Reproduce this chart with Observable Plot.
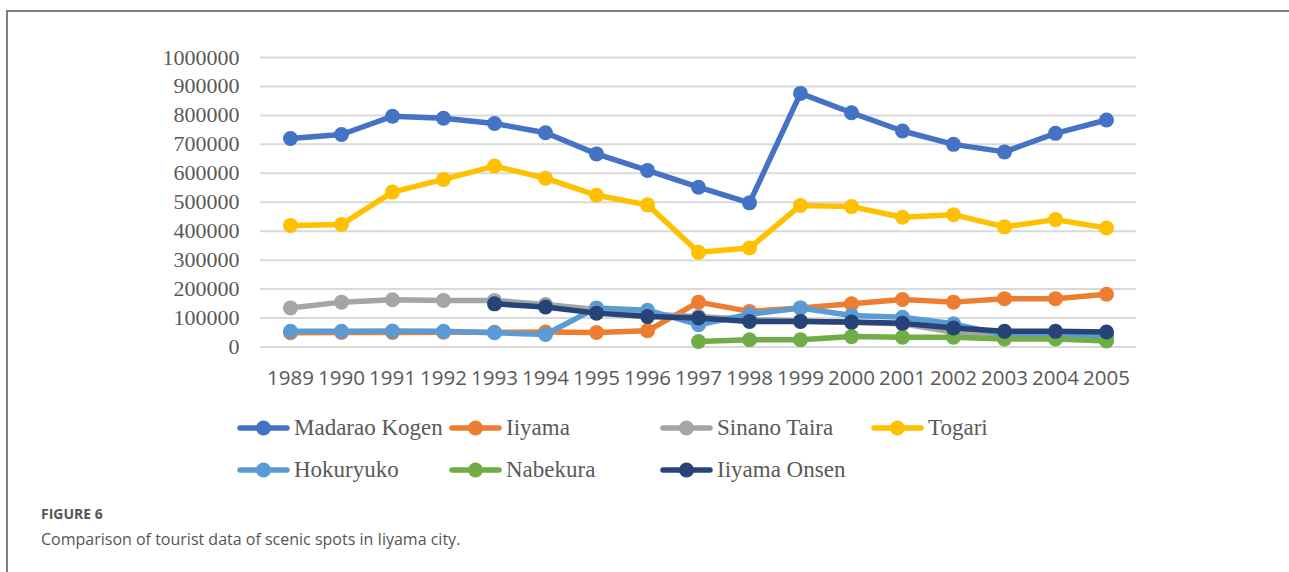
<!DOCTYPE html>
<html>
<head>
<meta charset="utf-8">
<script src="https://cdn.jsdelivr.net/npm/d3@7"></script>
<script src="https://cdn.jsdelivr.net/npm/@observablehq/plot@0.6"></script>
<style>
  html, body { margin: 0; padding: 0; background: #fff; }
  #wrap { position: relative; width: 1289px; height: 572px; overflow: hidden; background: #fff; }
  #frame { position: absolute; left: 6px; top: 10px; width: 1300px; height: 600px;
           border-top: 2px solid #7f7f7f; border-left: 2px solid #7f7f7f; box-sizing: border-box; }
  #chart { position: absolute; left: 0; top: 0; }
  .leg { position: absolute; display: flex; align-items: center; height: 30px;
         font-family: "Liberation Serif", serif; font-size: 23px; color: #595959; white-space: nowrap; }
  .leg svg { margin-right: 4px; }
  #fig { position: absolute; left: 41px; top: 504px; font-family: "Open Sans", sans-serif;
         font-weight: 700; font-size: 14px; color: #555; }
  #cap { position: absolute; left: 41px; top: 528px; font-family: "Open Sans", sans-serif;
         font-size: 16px; color: #555; }
</style>
</head>
<body>
<div id="wrap">
  <div id="frame"></div>
  <div id="chart"></div>
  <div id="legend"></div>
  <div id="fig">FIGURE 6</div>
  <div id="cap">Comparison of tourist data of scenic spots in Iiyama city.</div>
</div>
<script>
const years = [1989, 1990, 1991, 1992, 1993, 1994, 1995, 1996, 1997, 1998, 1999, 2000, 2001, 2002, 2003, 2004, 2005];
const yTicks = [0, 100000, 200000, 300000, 400000, 500000, 600000, 700000, 800000, 900000, 1000000];

const seriesNames = ["Madarao Kogen", "Iiyama", "Sinano Taira", "Togari", "Hokuryuko", "Nabekura", "Iiyama Onsen"];
const seriesColors = ["#4472C4", "#ED7D31", "#A5A5A5", "#FFC000", "#5B9BD5", "#70AD47", "#264478"];

const madaraoKogen = [720000, 734000, 797000, 790000, 772000, 740000, 667000, 610000, 552000, 498000, 876000, 809000, 746000, 700000, 674000, 738000, 784000];
const iiyama       = [49000, 50000, 50000, 51000, 51000, 52000, 50000, 56000, 155000, 123000, 135000, 149000, 164000, 155000, 167000, 167000, 182000];
const sinanoTaira  = [135000, 155000, 163000, 161000, 161000, 147000, 130000, 113000, 105000, 95000, 90000, 85000, 80000, 51000, 40000, 38000, 36000];
const togari       = [420000, 423000, 535000, 579000, 625000, 583000, 524000, 491000, 327000, 342000, 489000, 485000, 448000, 457000, 415000, 440000, 411000];
const hokuryuko    = [54000, 54000, 55000, 54000, 49000, 43000, 135000, 127000, 77000, 113000, 135000, 109000, 103000, 80000, 42000, 40000, 36000];
const nabekura     = [null, null, null, null, null, null, null, null, 19000, 25000, 25000, 36000, 34000, 34000, 28000, 28000, 21000];
const iiyamaOnsen  = [null, null, null, null, 149000, 138000, 117000, 105000, 100000, 88000, 88000, 86000, 82000, 66000, 54000, 54000, 52000];

const seriesValues = [madaraoKogen, iiyama, sinanoTaira, togari, hokuryuko, nabekura, iiyamaOnsen];

const seriesMarks = [];
seriesNames.forEach((name, i) => {
  const rows = years.map((y, j) => ({year: y, value: seriesValues[i][j], series: name}))
                    .filter(d => d.value != null);
  seriesMarks.push(Plot.line(rows, {x: "year", y: "value", stroke: seriesColors[i], strokeWidth: 5.5, strokeLinejoin: "round", strokeLinecap: "round"}));
  seriesMarks.push(Plot.dot(rows, {x: "year", y: "value", fill: seriesColors[i], r: 7.5, stroke: "none"}));
});

const chart = Plot.plot({
  width: 1289,
  height: 400,
  marginLeft: 260,
  marginRight: 153,
  marginTop: 57,
  marginBottom: 53.5,
  style: {background: "transparent", color: "#595959", overflow: "visible"},
  x: {type: "point", domain: years, padding: 0.5, label: null},
  y: {domain: [0, 1000000], label: null},
  marks: [
    Plot.ruleY(yTicks, {stroke: "#d9d9d9", strokeWidth: 2}),
    Plot.axisY({ticks: yTicks, tickSize: 0, tickPadding: 21, tickFormat: d => String(d),
                fontSize: 22, fontFamily: "Liberation Serif", fill: "#595959", label: null}),
    Plot.axisX({tickSize: 0, tickPadding: 23, tickFormat: d => String(d),
                fontSize: 20.5, fontFamily: "Open Sans", fill: "#595959", label: null}),
    ...seriesMarks
  ]
});
document.getElementById("chart").appendChild(chart);

// legend
const legendPos = [[237, 428], [449, 428], [660, 428], [871, 428], [237, 470], [449, 470], [660, 470]];
const legend = document.getElementById("legend");
seriesNames.forEach((name, i) => {
  const item = document.createElement("div");
  item.className = "leg";
  item.style.left = legendPos[i][0] + "px";
  item.style.top = (legendPos[i][1] - 15) + "px";
  item.innerHTML = `<svg width="53" height="18"><line x1="3" y1="9" x2="50" y2="9" stroke="${seriesColors[i]}" stroke-width="5.5" stroke-linecap="round"/><circle cx="26.5" cy="9" r="7.5" fill="${seriesColors[i]}"/></svg><span>${name}</span>`;
  legend.appendChild(item);
});
</script>
</body>
</html>
